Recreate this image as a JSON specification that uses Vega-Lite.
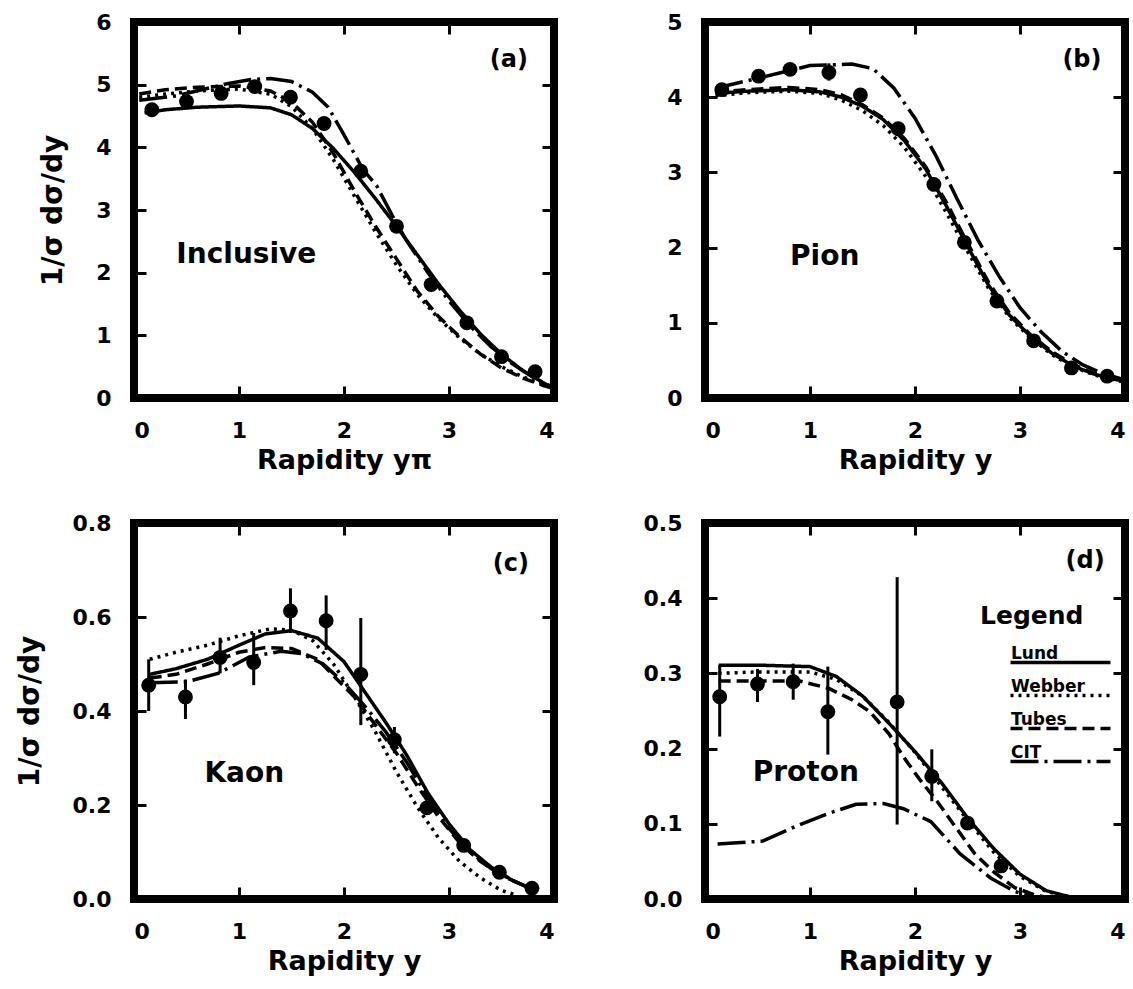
{
  "$schema": "https://vega.github.io/schema/vega-lite/v6.json",
  "background": "white",
  "padding": {"left": 12, "top": 7, "right": 5, "bottom": 0},
  "config": {
    "font": "DejaVu Sans",
    "view": {"stroke": "black", "strokeWidth": 8},
    "axis": {
      "grid": false, "domain": false, "ticks": true, "zindex": 1,
      "tickColor": "black", "tickWidth": 3, "tickSize": 12, "offset": -12,
      "labelFont": "DejaVu Sans", "labelFontSize": 22, "labelFontWeight": "bold", "labelColor": "black", "labelPadding": 23,
      "titleFont": "DejaVu Sans", "titleFontSize": 27, "titleFontWeight": "bold", "titleColor": "black"
    },
    "axisX": {"titlePadding": 6, "labelPadding": 22},
    "axisY": {"titlePadding": 28, "titleFontSize": 28},
    "line": {"strokeWidth": 3.5, "color": "black"},
    "text": {"font": "DejaVu Sans", "fontWeight": "bold", "color": "black"}
  },
  "datasets": {
    "curves": [
      {"p":"a","m":"Lund","x":0.1,"y":4.55},{"p":"a","m":"Lund","x":0.3,"y":4.6},{"p":"a","m":"Lund","x":0.6,"y":4.64},{"p":"a","m":"Lund","x":1.0,"y":4.66},{"p":"a","m":"Lund","x":1.3,"y":4.63},{"p":"a","m":"Lund","x":1.5,"y":4.52},{"p":"a","m":"Lund","x":1.7,"y":4.3},{"p":"a","m":"Lund","x":1.9,"y":3.98},{"p":"a","m":"Lund","x":2.1,"y":3.6},{"p":"a","m":"Lund","x":2.3,"y":3.18},{"p":"a","m":"Lund","x":2.5,"y":2.74},{"p":"a","m":"Lund","x":2.7,"y":2.28},{"p":"a","m":"Lund","x":2.9,"y":1.82},{"p":"a","m":"Lund","x":3.1,"y":1.4},{"p":"a","m":"Lund","x":3.3,"y":1.02},{"p":"a","m":"Lund","x":3.5,"y":0.7},{"p":"a","m":"Lund","x":3.7,"y":0.44},{"p":"a","m":"Lund","x":3.9,"y":0.24},{"p":"a","m":"Lund","x":4.0,"y":0.15},
      {"p":"a","m":"Webber","x":0.05,"y":4.8},{"p":"a","m":"Webber","x":0.3,"y":4.85},{"p":"a","m":"Webber","x":0.6,"y":4.9},{"p":"a","m":"Webber","x":1.0,"y":4.93},{"p":"a","m":"Webber","x":1.3,"y":4.85},{"p":"a","m":"Webber","x":1.5,"y":4.65},{"p":"a","m":"Webber","x":1.7,"y":4.3},{"p":"a","m":"Webber","x":1.9,"y":3.8},{"p":"a","m":"Webber","x":2.1,"y":3.22},{"p":"a","m":"Webber","x":2.3,"y":2.65},{"p":"a","m":"Webber","x":2.5,"y":2.12},{"p":"a","m":"Webber","x":2.7,"y":1.65},{"p":"a","m":"Webber","x":2.9,"y":1.27},{"p":"a","m":"Webber","x":3.1,"y":0.96},{"p":"a","m":"Webber","x":3.3,"y":0.7},{"p":"a","m":"Webber","x":3.5,"y":0.5},{"p":"a","m":"Webber","x":3.7,"y":0.34},{"p":"a","m":"Webber","x":3.9,"y":0.22},{"p":"a","m":"Webber","x":4.0,"y":0.17},
      {"p":"a","m":"Tubes","x":0.05,"y":4.85},{"p":"a","m":"Tubes","x":0.3,"y":4.92},{"p":"a","m":"Tubes","x":0.6,"y":4.96},{"p":"a","m":"Tubes","x":1.0,"y":4.98},{"p":"a","m":"Tubes","x":1.3,"y":4.9},{"p":"a","m":"Tubes","x":1.5,"y":4.72},{"p":"a","m":"Tubes","x":1.7,"y":4.4},{"p":"a","m":"Tubes","x":1.9,"y":3.9},{"p":"a","m":"Tubes","x":2.1,"y":3.3},{"p":"a","m":"Tubes","x":2.3,"y":2.74},{"p":"a","m":"Tubes","x":2.5,"y":2.22},{"p":"a","m":"Tubes","x":2.7,"y":1.7},{"p":"a","m":"Tubes","x":2.9,"y":1.3},{"p":"a","m":"Tubes","x":3.1,"y":0.98},{"p":"a","m":"Tubes","x":3.3,"y":0.7},{"p":"a","m":"Tubes","x":3.5,"y":0.48},{"p":"a","m":"Tubes","x":3.7,"y":0.32},{"p":"a","m":"Tubes","x":3.9,"y":0.2},{"p":"a","m":"Tubes","x":4.0,"y":0.15},
      {"p":"a","m":"CIT","x":0.05,"y":4.75},{"p":"a","m":"CIT","x":0.4,"y":4.82},{"p":"a","m":"CIT","x":0.9,"y":5.02},{"p":"a","m":"CIT","x":1.1,"y":5.08},{"p":"a","m":"CIT","x":1.3,"y":5.1},{"p":"a","m":"CIT","x":1.5,"y":5.05},{"p":"a","m":"CIT","x":1.7,"y":4.88},{"p":"a","m":"CIT","x":1.85,"y":4.64},{"p":"a","m":"CIT","x":2.0,"y":4.2},{"p":"a","m":"CIT","x":2.18,"y":3.65},{"p":"a","m":"CIT","x":2.31,"y":3.39},{"p":"a","m":"CIT","x":2.46,"y":2.91},{"p":"a","m":"CIT","x":2.6,"y":2.5},{"p":"a","m":"CIT","x":2.8,"y":2.0},{"p":"a","m":"CIT","x":3.0,"y":1.55},{"p":"a","m":"CIT","x":3.2,"y":1.15},{"p":"a","m":"CIT","x":3.4,"y":0.82},{"p":"a","m":"CIT","x":3.6,"y":0.55},{"p":"a","m":"CIT","x":3.8,"y":0.33},{"p":"a","m":"CIT","x":4.0,"y":0.16},

      {"p":"b","m":"Lund","x":0.1,"y":4.05},{"p":"b","m":"Lund","x":0.4,"y":4.08},{"p":"b","m":"Lund","x":0.8,"y":4.1},{"p":"b","m":"Lund","x":1.1,"y":4.07},{"p":"b","m":"Lund","x":1.3,"y":4.0},{"p":"b","m":"Lund","x":1.5,"y":3.88},{"p":"b","m":"Lund","x":1.7,"y":3.7},{"p":"b","m":"Lund","x":1.9,"y":3.42},{"p":"b","m":"Lund","x":2.1,"y":3.05},{"p":"b","m":"Lund","x":2.3,"y":2.55},{"p":"b","m":"Lund","x":2.5,"y":2.02},{"p":"b","m":"Lund","x":2.7,"y":1.5},{"p":"b","m":"Lund","x":2.9,"y":1.1},{"p":"b","m":"Lund","x":3.1,"y":0.82},{"p":"b","m":"Lund","x":3.3,"y":0.6},{"p":"b","m":"Lund","x":3.5,"y":0.43},{"p":"b","m":"Lund","x":3.7,"y":0.32},{"p":"b","m":"Lund","x":3.9,"y":0.25},{"p":"b","m":"Lund","x":4.0,"y":0.22},
      {"p":"b","m":"Webber","x":0.1,"y":4.02},{"p":"b","m":"Webber","x":0.4,"y":4.06},{"p":"b","m":"Webber","x":0.8,"y":4.08},{"p":"b","m":"Webber","x":1.1,"y":4.05},{"p":"b","m":"Webber","x":1.3,"y":3.96},{"p":"b","m":"Webber","x":1.5,"y":3.82},{"p":"b","m":"Webber","x":1.7,"y":3.62},{"p":"b","m":"Webber","x":1.9,"y":3.33},{"p":"b","m":"Webber","x":2.1,"y":2.95},{"p":"b","m":"Webber","x":2.3,"y":2.46},{"p":"b","m":"Webber","x":2.5,"y":1.95},{"p":"b","m":"Webber","x":2.7,"y":1.46},{"p":"b","m":"Webber","x":2.9,"y":1.07},{"p":"b","m":"Webber","x":3.1,"y":0.8},{"p":"b","m":"Webber","x":3.3,"y":0.58},{"p":"b","m":"Webber","x":3.5,"y":0.42},{"p":"b","m":"Webber","x":3.7,"y":0.31},{"p":"b","m":"Webber","x":3.9,"y":0.24},{"p":"b","m":"Webber","x":4.0,"y":0.21},
      {"p":"b","m":"Tubes","x":0.1,"y":4.07},{"p":"b","m":"Tubes","x":0.4,"y":4.1},{"p":"b","m":"Tubes","x":0.8,"y":4.13},{"p":"b","m":"Tubes","x":1.1,"y":4.1},{"p":"b","m":"Tubes","x":1.3,"y":4.03},{"p":"b","m":"Tubes","x":1.5,"y":3.9},{"p":"b","m":"Tubes","x":1.7,"y":3.72},{"p":"b","m":"Tubes","x":1.9,"y":3.45},{"p":"b","m":"Tubes","x":2.1,"y":3.08},{"p":"b","m":"Tubes","x":2.3,"y":2.6},{"p":"b","m":"Tubes","x":2.5,"y":2.06},{"p":"b","m":"Tubes","x":2.7,"y":1.54},{"p":"b","m":"Tubes","x":2.9,"y":1.13},{"p":"b","m":"Tubes","x":3.1,"y":0.84},{"p":"b","m":"Tubes","x":3.3,"y":0.62},{"p":"b","m":"Tubes","x":3.5,"y":0.45},{"p":"b","m":"Tubes","x":3.7,"y":0.33},{"p":"b","m":"Tubes","x":3.9,"y":0.26},{"p":"b","m":"Tubes","x":4.0,"y":0.23},
      {"p":"b","m":"CIT","x":0.1,"y":4.12},{"p":"b","m":"CIT","x":0.5,"y":4.25},{"p":"b","m":"CIT","x":1.0,"y":4.42},{"p":"b","m":"CIT","x":1.4,"y":4.44},{"p":"b","m":"CIT","x":1.6,"y":4.38},{"p":"b","m":"CIT","x":1.8,"y":4.12},{"p":"b","m":"CIT","x":2.0,"y":3.72},{"p":"b","m":"CIT","x":2.2,"y":3.22},{"p":"b","m":"CIT","x":2.4,"y":2.65},{"p":"b","m":"CIT","x":2.6,"y":2.1},{"p":"b","m":"CIT","x":2.8,"y":1.62},{"p":"b","m":"CIT","x":3.0,"y":1.2},{"p":"b","m":"CIT","x":3.2,"y":0.88},{"p":"b","m":"CIT","x":3.4,"y":0.62},{"p":"b","m":"CIT","x":3.6,"y":0.44},{"p":"b","m":"CIT","x":3.8,"y":0.32},{"p":"b","m":"CIT","x":4.0,"y":0.24},

      {"p":"c","m":"Lund","x":0.15,"y":0.478},{"p":"c","m":"Lund","x":0.4,"y":0.49},{"p":"c","m":"Lund","x":0.7,"y":0.51},{"p":"c","m":"Lund","x":1.0,"y":0.54},{"p":"c","m":"Lund","x":1.25,"y":0.564},{"p":"c","m":"Lund","x":1.5,"y":0.571},{"p":"c","m":"Lund","x":1.75,"y":0.555},{"p":"c","m":"Lund","x":2.0,"y":0.505},{"p":"c","m":"Lund","x":2.2,"y":0.44},{"p":"c","m":"Lund","x":2.4,"y":0.375},{"p":"c","m":"Lund","x":2.6,"y":0.305},{"p":"c","m":"Lund","x":2.8,"y":0.225},{"p":"c","m":"Lund","x":3.0,"y":0.16},{"p":"c","m":"Lund","x":3.2,"y":0.105},{"p":"c","m":"Lund","x":3.4,"y":0.068},{"p":"c","m":"Lund","x":3.6,"y":0.04},{"p":"c","m":"Lund","x":3.8,"y":0.02},
      {"p":"c","m":"Webber","x":0.15,"y":0.51},{"p":"c","m":"Webber","x":0.4,"y":0.525},{"p":"c","m":"Webber","x":0.7,"y":0.54},{"p":"c","m":"Webber","x":1.0,"y":0.56},{"p":"c","m":"Webber","x":1.3,"y":0.575},{"p":"c","m":"Webber","x":1.5,"y":0.572},{"p":"c","m":"Webber","x":1.7,"y":0.55},{"p":"c","m":"Webber","x":1.9,"y":0.5},{"p":"c","m":"Webber","x":2.1,"y":0.43},{"p":"c","m":"Webber","x":2.3,"y":0.355},{"p":"c","m":"Webber","x":2.5,"y":0.27},{"p":"c","m":"Webber","x":2.7,"y":0.195},{"p":"c","m":"Webber","x":2.9,"y":0.13},{"p":"c","m":"Webber","x":3.1,"y":0.08},{"p":"c","m":"Webber","x":3.3,"y":0.045},{"p":"c","m":"Webber","x":3.5,"y":0.018},{"p":"c","m":"Webber","x":3.65,"y":0.008},
      {"p":"c","m":"Tubes","x":0.15,"y":0.47},{"p":"c","m":"Tubes","x":0.4,"y":0.478},{"p":"c","m":"Tubes","x":0.7,"y":0.5},{"p":"c","m":"Tubes","x":1.0,"y":0.525},{"p":"c","m":"Tubes","x":1.25,"y":0.535},{"p":"c","m":"Tubes","x":1.5,"y":0.533},{"p":"c","m":"Tubes","x":1.75,"y":0.51},{"p":"c","m":"Tubes","x":1.9,"y":0.475},{"p":"c","m":"Tubes","x":2.1,"y":0.43},{"p":"c","m":"Tubes","x":2.3,"y":0.37},{"p":"c","m":"Tubes","x":2.5,"y":0.31},{"p":"c","m":"Tubes","x":2.7,"y":0.24},{"p":"c","m":"Tubes","x":2.9,"y":0.175},{"p":"c","m":"Tubes","x":3.1,"y":0.12},{"p":"c","m":"Tubes","x":3.3,"y":0.08},{"p":"c","m":"Tubes","x":3.5,"y":0.05},{"p":"c","m":"Tubes","x":3.7,"y":0.03},{"p":"c","m":"Tubes","x":3.85,"y":0.018},
      {"p":"c","m":"CIT","x":0.15,"y":0.46},{"p":"c","m":"CIT","x":0.5,"y":0.462},{"p":"c","m":"CIT","x":0.8,"y":0.48},{"p":"c","m":"CIT","x":1.1,"y":0.515},{"p":"c","m":"CIT","x":1.4,"y":0.527},{"p":"c","m":"CIT","x":1.6,"y":0.522},{"p":"c","m":"CIT","x":1.8,"y":0.5},{"p":"c","m":"CIT","x":2.0,"y":0.46},{"p":"c","m":"CIT","x":2.2,"y":0.41},{"p":"c","m":"CIT","x":2.4,"y":0.355},{"p":"c","m":"CIT","x":2.6,"y":0.29},{"p":"c","m":"CIT","x":2.8,"y":0.215},{"p":"c","m":"CIT","x":3.0,"y":0.15},{"p":"c","m":"CIT","x":3.2,"y":0.1},{"p":"c","m":"CIT","x":3.4,"y":0.065},{"p":"c","m":"CIT","x":3.6,"y":0.04},{"p":"c","m":"CIT","x":3.8,"y":0.02},

      {"p":"d","m":"Lund","x":0.13,"y":0.311},{"p":"d","m":"Lund","x":0.5,"y":0.311},{"p":"d","m":"Lund","x":1.0,"y":0.309},{"p":"d","m":"Lund","x":1.25,"y":0.296},{"p":"d","m":"Lund","x":1.5,"y":0.27},{"p":"d","m":"Lund","x":1.75,"y":0.234},{"p":"d","m":"Lund","x":2.0,"y":0.196},{"p":"d","m":"Lund","x":2.25,"y":0.155},{"p":"d","m":"Lund","x":2.5,"y":0.108},{"p":"d","m":"Lund","x":2.75,"y":0.067},{"p":"d","m":"Lund","x":3.0,"y":0.033},{"p":"d","m":"Lund","x":3.25,"y":0.011},{"p":"d","m":"Lund","x":3.5,"y":0.002},{"p":"d","m":"Lund","x":3.7,"y":0.0},
      {"p":"d","m":"Webber","x":0.13,"y":0.3},{"p":"d","m":"Webber","x":0.5,"y":0.302},{"p":"d","m":"Webber","x":1.0,"y":0.302},{"p":"d","m":"Webber","x":1.25,"y":0.292},{"p":"d","m":"Webber","x":1.5,"y":0.27},{"p":"d","m":"Webber","x":1.75,"y":0.235},{"p":"d","m":"Webber","x":2.0,"y":0.195},{"p":"d","m":"Webber","x":2.25,"y":0.15},{"p":"d","m":"Webber","x":2.5,"y":0.105},{"p":"d","m":"Webber","x":2.75,"y":0.062},{"p":"d","m":"Webber","x":3.0,"y":0.03},{"p":"d","m":"Webber","x":3.25,"y":0.01},{"p":"d","m":"Webber","x":3.5,"y":0.002},
      {"p":"d","m":"Tubes","x":0.13,"y":0.29},{"p":"d","m":"Tubes","x":0.5,"y":0.29},{"p":"d","m":"Tubes","x":0.9,"y":0.29},{"p":"d","m":"Tubes","x":1.18,"y":0.28},{"p":"d","m":"Tubes","x":1.4,"y":0.265},{"p":"d","m":"Tubes","x":1.57,"y":0.249},{"p":"d","m":"Tubes","x":1.75,"y":0.22},{"p":"d","m":"Tubes","x":1.9,"y":0.187},{"p":"d","m":"Tubes","x":2.05,"y":0.158},{"p":"d","m":"Tubes","x":2.21,"y":0.13},{"p":"d","m":"Tubes","x":2.4,"y":0.093},{"p":"d","m":"Tubes","x":2.57,"y":0.06},{"p":"d","m":"Tubes","x":2.75,"y":0.036},{"p":"d","m":"Tubes","x":2.95,"y":0.015},{"p":"d","m":"Tubes","x":3.15,"y":0.005},{"p":"d","m":"Tubes","x":3.35,"y":0.0},
      {"p":"d","m":"CIT","x":0.12,"y":0.073},{"p":"d","m":"CIT","x":0.55,"y":0.077},{"p":"d","m":"CIT","x":0.87,"y":0.097},{"p":"d","m":"CIT","x":1.18,"y":0.114},{"p":"d","m":"CIT","x":1.44,"y":0.126},{"p":"d","m":"CIT","x":1.7,"y":0.127},{"p":"d","m":"CIT","x":1.89,"y":0.12},{"p":"d","m":"CIT","x":2.15,"y":0.103},{"p":"d","m":"CIT","x":2.43,"y":0.06},{"p":"d","m":"CIT","x":2.72,"y":0.028},{"p":"d","m":"CIT","x":2.95,"y":0.01},{"p":"d","m":"CIT","x":3.2,"y":0.0}
    ],
    "points": [
      {"p":"a","x":0.17,"y":4.6},{"p":"a","x":0.5,"y":4.73},{"p":"a","x":0.83,"y":4.86},{"p":"a","x":1.15,"y":4.97},{"p":"a","x":1.49,"y":4.8},{"p":"a","x":1.81,"y":4.38},{"p":"a","x":2.16,"y":3.62},{"p":"a","x":2.5,"y":2.74},{"p":"a","x":2.83,"y":1.81},{"p":"a","x":3.17,"y":1.2},{"p":"a","x":3.5,"y":0.66},{"p":"a","x":3.82,"y":0.42},
      {"p":"b","x":0.16,"y":4.1},{"p":"b","x":0.51,"y":4.28},{"p":"b","x":0.81,"y":4.37},{"p":"b","x":1.18,"y":4.33,"lo":4.22,"hi":4.45},{"p":"b","x":1.48,"y":4.03},{"p":"b","x":1.84,"y":3.58},{"p":"b","x":2.18,"y":2.84},{"p":"b","x":2.47,"y":2.07},{"p":"b","x":2.78,"y":1.29},{"p":"b","x":3.13,"y":0.76},{"p":"b","x":3.49,"y":0.4},{"p":"b","x":3.83,"y":0.29},
      {"p":"c","x":0.14,"y":0.455,"lo":0.4,"hi":0.51},{"p":"c","x":0.49,"y":0.43,"lo":0.383,"hi":0.467},{"p":"c","x":0.82,"y":0.514,"lo":0.48,"hi":0.556},{"p":"c","x":1.14,"y":0.503,"lo":0.455,"hi":0.566},{"p":"c","x":1.49,"y":0.613,"lo":0.566,"hi":0.661},{"p":"c","x":1.83,"y":0.592,"lo":0.53,"hi":0.646},{"p":"c","x":2.16,"y":0.478,"lo":0.37,"hi":0.598},{"p":"c","x":2.48,"y":0.339,"lo":0.31,"hi":0.366},{"p":"c","x":2.79,"y":0.194},{"p":"c","x":3.14,"y":0.114},{"p":"c","x":3.48,"y":0.057},{"p":"c","x":3.79,"y":0.023},
      {"p":"d","x":0.14,"y":0.269,"lo":0.216,"hi":0.311},{"p":"d","x":0.5,"y":0.286,"lo":0.262,"hi":0.306},{"p":"d","x":0.84,"y":0.289,"lo":0.265,"hi":0.313},{"p":"d","x":1.17,"y":0.249,"lo":0.192,"hi":0.309},{"p":"d","x":1.83,"y":0.262,"lo":0.099,"hi":0.428},{"p":"d","x":2.16,"y":0.163,"lo":0.13,"hi":0.199},{"p":"d","x":2.5,"y":0.101},{"p":"d","x":2.82,"y":0.044}
    ]
  },
  "columns": 2,
  "bounds": "flush",
  "spacing": {"row": 125, "column": 151},
  "resolve": {"scale": {"strokeDash": "independent"}, "legend": {"strokeDash": "independent"}},
  "concat": [
    {
      "width": 420, "height": 376,
      "layer": [
        {"data": {"name": "curves"}, "transform": [{"filter": "datum.p === 'a'"}],
         "mark": {"type": "line", "strokeWidth": 3.5, "color": "black"},
         "encoding": {
           "x": {"field": "x", "type": "quantitative", "scale": {"domain": [0, 4], "nice": false}, "axis": {"values": [0, 1, 2, 3, 4], "title": "Rapidity yπ"}},
           "y": {"field": "y", "type": "quantitative", "scale": {"domain": [0, 6], "nice": false}, "axis": {"values": [0, 1, 2, 3, 4, 5, 6], "title": "1/σ dσ/dy"}},
           "strokeDash": {"field": "m", "type": "nominal", "scale": {"domain": ["Lund", "Webber", "Tubes", "CIT"], "range": [[1, 0], [3, 5], [12, 6], [28, 6, 3, 6]]}, "legend": null}
         }},
        {"data": {"name": "points"}, "transform": [{"filter": "datum.p === 'a'"}],
         "mark": {"type": "circle", "size": 220, "color": "black", "opacity": 1},
         "encoding": {
           "x": {"field": "x", "type": "quantitative", "axis": {"orient": "top", "labels": false, "title": null, "values": [0, 1, 2, 3, 4]}},
           "y": {"field": "y", "type": "quantitative", "axis": {"orient": "right", "labels": false, "title": null, "values": [0, 1, 2, 3, 4, 5, 6]}}
         }},
        {"data": {"values": [{}]}, "mark": {"type": "text", "text": "(a)", "fontSize": 24},
         "encoding": {"x": {"datum": 3.57, "type": "quantitative", "axis": null}, "y": {"datum": 5.4, "type": "quantitative", "axis": null}}},
        {"data": {"values": [{}]}, "mark": {"type": "text", "text": "Inclusive", "fontSize": 28},
         "encoding": {"x": {"datum": 1.07, "type": "quantitative", "axis": null}, "y": {"datum": 2.28, "type": "quantitative", "axis": null}}}
      ],
      "resolve": {"axis": {"x": "independent", "y": "independent"}}
    },
    {
      "width": 420, "height": 376,
      "layer": [
        {"data": {"name": "curves"}, "transform": [{"filter": "datum.p === 'b'"}],
         "mark": {"type": "line", "strokeWidth": 3.5, "color": "black"},
         "encoding": {
           "x": {"field": "x", "type": "quantitative", "scale": {"domain": [0, 4], "nice": false}, "axis": {"values": [0, 1, 2, 3, 4], "title": "Rapidity y"}},
           "y": {"field": "y", "type": "quantitative", "scale": {"domain": [0, 5], "nice": false}, "axis": {"values": [0, 1, 2, 3, 4, 5], "title": null}},
           "strokeDash": {"field": "m", "type": "nominal", "scale": {"domain": ["Lund", "Webber", "Tubes", "CIT"], "range": [[1, 0], [3, 5], [12, 6], [28, 6, 3, 6]]}, "legend": null}
         }},
        {"data": {"name": "points"}, "transform": [{"filter": "datum.p === 'b' && datum.lo != null"}],
         "mark": {"type": "rule", "strokeWidth": 3, "color": "black"},
         "encoding": {"x": {"field": "x", "type": "quantitative", "axis": null}, "y": {"field": "lo", "type": "quantitative", "axis": null}, "y2": {"field": "hi"}}},
        {"data": {"name": "points"}, "transform": [{"filter": "datum.p === 'b'"}],
         "mark": {"type": "circle", "size": 220, "color": "black", "opacity": 1},
         "encoding": {
           "x": {"field": "x", "type": "quantitative", "axis": {"orient": "top", "labels": false, "title": null, "values": [0, 1, 2, 3, 4]}},
           "y": {"field": "y", "type": "quantitative", "axis": {"orient": "right", "labels": false, "title": null, "values": [0, 1, 2, 3, 4, 5]}}
         }},
        {"data": {"values": [{}]}, "mark": {"type": "text", "text": "(b)", "fontSize": 24},
         "encoding": {"x": {"datum": 3.59, "type": "quantitative", "axis": null}, "y": {"datum": 4.49, "type": "quantitative", "axis": null}}},
        {"data": {"values": [{}]}, "mark": {"type": "text", "text": "Pion", "fontSize": 28},
         "encoding": {"x": {"datum": 1.14, "type": "quantitative", "axis": null}, "y": {"datum": 1.88, "type": "quantitative", "axis": null}}}
      ],
      "resolve": {"axis": {"x": "independent", "y": "independent"}}
    },
    {
      "width": 420, "height": 376,
      "layer": [
        {"data": {"name": "curves"}, "transform": [{"filter": "datum.p === 'c'"}],
         "mark": {"type": "line", "strokeWidth": 3.5, "color": "black"},
         "encoding": {
           "x": {"field": "x", "type": "quantitative", "scale": {"domain": [0, 4], "nice": false}, "axis": {"values": [0, 1, 2, 3, 4], "title": "Rapidity y"}},
           "y": {"field": "y", "type": "quantitative", "scale": {"domain": [0, 0.8], "nice": false}, "axis": {"values": [0, 0.2, 0.4, 0.6, 0.8], "format": ".1f", "title": "1/σ dσ/dy"}},
           "strokeDash": {"field": "m", "type": "nominal", "scale": {"domain": ["Lund", "Webber", "Tubes", "CIT"], "range": [[1, 0], [3, 5], [12, 6], [28, 6, 3, 6]]}, "legend": null}
         }},
        {"data": {"name": "points"}, "transform": [{"filter": "datum.p === 'c' && datum.lo != null"}],
         "mark": {"type": "rule", "strokeWidth": 3, "color": "black"},
         "encoding": {"x": {"field": "x", "type": "quantitative", "axis": null}, "y": {"field": "lo", "type": "quantitative", "axis": null}, "y2": {"field": "hi"}}},
        {"data": {"name": "points"}, "transform": [{"filter": "datum.p === 'c'"}],
         "mark": {"type": "circle", "size": 220, "color": "black", "opacity": 1},
         "encoding": {
           "x": {"field": "x", "type": "quantitative", "axis": {"orient": "top", "labels": false, "title": null, "values": [0, 1, 2, 3, 4]}},
           "y": {"field": "y", "type": "quantitative", "axis": {"orient": "right", "labels": false, "title": null, "values": [0, 0.2, 0.4, 0.6, 0.8]}}
         }},
        {"data": {"values": [{}]}, "mark": {"type": "text", "text": "(c)", "fontSize": 24},
         "encoding": {"x": {"datum": 3.59, "type": "quantitative", "axis": null}, "y": {"datum": 0.712, "type": "quantitative", "axis": null}}},
        {"data": {"values": [{}]}, "mark": {"type": "text", "text": "Kaon", "fontSize": 28},
         "encoding": {"x": {"datum": 1.05, "type": "quantitative", "axis": null}, "y": {"datum": 0.265, "type": "quantitative", "axis": null}}}
      ],
      "resolve": {"axis": {"x": "independent", "y": "independent"}}
    },
    {
      "width": 420, "height": 376,
      "layer": [
        {"data": {"name": "curves"}, "transform": [{"filter": "datum.p === 'd'"}],
         "mark": {"type": "line", "strokeWidth": 3.5, "color": "black"},
         "encoding": {
           "x": {"field": "x", "type": "quantitative", "scale": {"domain": [0, 4], "nice": false}, "axis": {"values": [0, 1, 2, 3, 4], "title": "Rapidity y"}},
           "y": {"field": "y", "type": "quantitative", "scale": {"domain": [0, 0.5], "nice": false}, "axis": {"values": [0, 0.1, 0.2, 0.3, 0.4, 0.5], "format": ".1f", "title": null}},
           "strokeDash": {"field": "m", "type": "nominal", "scale": {"domain": ["Lund", "Webber", "Tubes", "CIT"], "range": [[1, 0], [3, 5], [12, 6], [28, 6, 3, 6]]},
             "legend": {"title": "Legend", "orient": "none", "legendX": 275, "legendY": 81, "padding": 0,
               "symbolType": "M-4,0H4", "symbolSize": 625, "symbolOffset": 66, "symbolStrokeWidth": 3.5, "symbolStrokeColor": "black", "symbolFillColor": "transparent",
               "labelFont": "DejaVu Sans", "labelFontSize": 17, "labelFontWeight": "bold", "labelColor": "black", "labelOffset": -64, "labelBaseline": "bottom",
               "titleFont": "DejaVu Sans", "titleFontSize": 25, "titleFontWeight": "bold", "titleColor": "black", "titlePadding": 19, "rowPadding": 7}}
         }},
        {"data": {"name": "points"}, "transform": [{"filter": "datum.p === 'd' && datum.lo != null"}],
         "mark": {"type": "rule", "strokeWidth": 3, "color": "black"},
         "encoding": {"x": {"field": "x", "type": "quantitative", "axis": null}, "y": {"field": "lo", "type": "quantitative", "axis": null}, "y2": {"field": "hi"}}},
        {"data": {"name": "points"}, "transform": [{"filter": "datum.p === 'd'"}],
         "mark": {"type": "circle", "size": 220, "color": "black", "opacity": 1},
         "encoding": {
           "x": {"field": "x", "type": "quantitative", "axis": {"orient": "top", "labels": false, "title": null, "values": [0, 1, 2, 3, 4]}},
           "y": {"field": "y", "type": "quantitative", "axis": {"orient": "right", "labels": false, "title": null, "values": [0, 0.1, 0.2, 0.3, 0.4, 0.5]}}
         }},
        {"data": {"values": [{}]}, "mark": {"type": "text", "text": "(d)", "fontSize": 24},
         "encoding": {"x": {"datum": 3.62, "type": "quantitative", "axis": null}, "y": {"datum": 0.45, "type": "quantitative", "axis": null}}},
        {"data": {"values": [{}]}, "mark": {"type": "text", "text": "Proton", "fontSize": 28},
         "encoding": {"x": {"datum": 0.96, "type": "quantitative", "axis": null}, "y": {"datum": 0.167, "type": "quantitative", "axis": null}}}
      ],
      "resolve": {"axis": {"x": "independent", "y": "independent"}}
    }
  ]
}
